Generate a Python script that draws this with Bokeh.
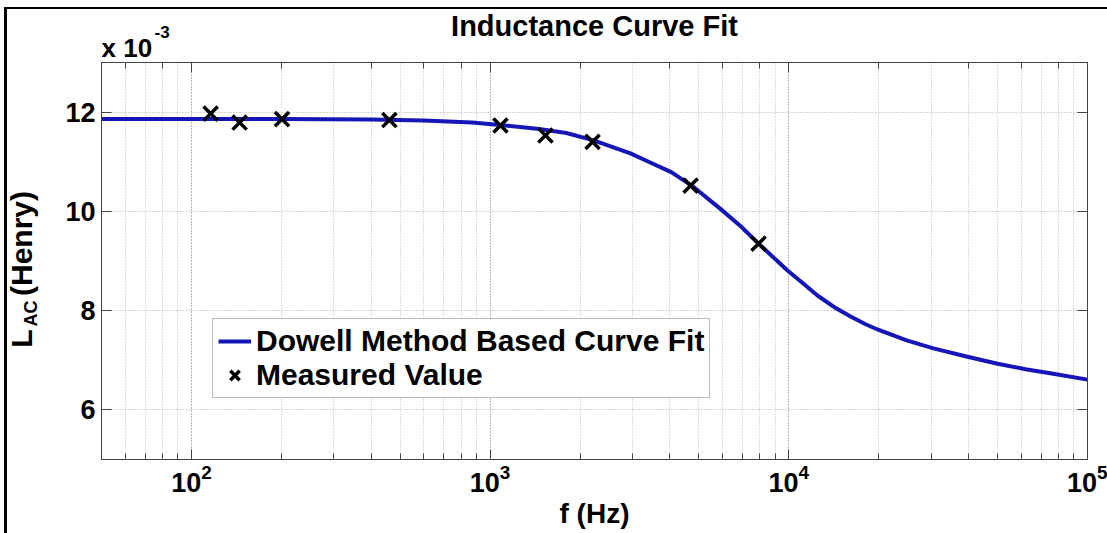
import math
from bokeh.plotting import figure
from bokeh.models import (Range1d, LogAxis, LinearAxis, Legend, LegendItem, Title,
                          FixedTicker, LogTicker, ColumnDataSource)
from bokeh.embed import file_html
from bokeh.resources import INLINE

# ---------------- data (L values in units of 10^-3 H) ----------------
fit_freq = [50, 100, 200, 400, 600, 870, 1080, 1460, 1800, 2220, 2950, 3450, 4040,
            4730, 5930, 6900, 7920, 9900, 11100, 12500, 14200, 16100, 18000, 20000,
            24800, 30500, 39000, 50000, 62000, 75000, 100000]
fit_L = [11.86, 11.86, 11.86, 11.85, 11.83, 11.79, 11.74, 11.66, 11.58, 11.43, 11.17,
         10.98, 10.79, 10.52, 10.04, 9.70, 9.35, 8.81, 8.56, 8.30, 8.07, 7.88, 7.73,
         7.61, 7.40, 7.24, 7.08, 6.93, 6.82, 6.74, 6.61]

meas_freq = [116, 145, 201, 460, 1083, 1532, 2203, 4690, 7918]
meas_L = [11.97, 11.79, 11.86, 11.84, 11.73, 11.53, 11.40, 10.52, 9.35]

y_ticks = [6, 8, 10, 12]

NBSP = "\u00a0"
title_text = "Inductance Curve Fit"
x_label = "f (Hz)"
y_label_main = "L" + NBSP * 4 + "(Henry)" + NBSP * 2   # trailing spaces shift it along the axis
y_label_sub = "AC" + NBSP * 21                         # subscript, shifted down along the axis
scale_base = "x 10"
scale_exp = "-3"
fit_name = "Dowell Method Based Curve Fit"
meas_name = "Measured Value"

FONT = "Liberation Sans"

# ---------------- layout geometry (page pixels) ----------------
X0, X1 = 50, 1e5
Y0, Y1 = 5, 13
FL, FR, FT, FB = 101, 1087, 62, 459
W, H = 1107, 533

p = figure(width=W, height=H, x_axis_type="log",
           x_range=Range1d(X0, X1), y_range=Range1d(Y0, Y1),
           output_backend="svg", toolbar_location=None,
           min_border_left=FL, min_border_right=W - FR,
           min_border_top=FT, min_border_bottom=H - FB)
p.title.text = ""
p.styles = {"box-shadow": "inset 4px 7px 0 0 #ffffff, inset 7px 9px 0 0 #000000"}
p.background_fill_color = "white"
p.border_fill_color = None
p.outline_line_color = "#444444"
p.outline_line_width = 1

# grids
p.xgrid.grid_line_color = "#a8a8a8"
p.xgrid.grid_line_dash = "1 2"
p.xgrid.minor_grid_line_color = "#b8b8b8"
p.xgrid.minor_grid_line_dash = "1 2"
p.ygrid.grid_line_color = "#a8a8a8"
p.ygrid.grid_line_dash = "1 2"
p.ygrid.ticker = FixedTicker(ticks=y_ticks, minor_ticks=[])


def style_axis(ax, show_labels=True):
    ax.axis_line_color = "#444444"
    ax.major_tick_line_color = "#444444"
    ax.minor_tick_line_color = "#444444"
    ax.major_tick_in = 10
    ax.major_tick_out = 0
    ax.minor_tick_in = 6
    ax.minor_tick_out = 0
    ax.major_label_text_font = FONT
    ax.major_label_text_font_style = "bold"
    ax.axis_label_text_font = FONT
    ax.axis_label_text_font_style = "bold"
    ax.axis_label_text_color = "black"
    if show_labels:
        ax.major_label_text_color = "black"
        ax.major_label_text_font_size = "27px"
    else:
        ax.major_label_text_font_size = "2px"
        ax.major_label_text_alpha = 0
        ax.major_label_standoff = 0


xa = p.xaxis[0]
style_axis(xa)
xa.major_label_standoff = 4
xa.axis_label = x_label
xa.axis_label_text_font_size = "28px"
xa.axis_label_standoff = 3

# primary y axis carries the subscript as its label
ya = p.yaxis[0]
style_axis(ya)
ya.ticker = FixedTicker(ticks=y_ticks, minor_ticks=[])
ya.major_label_standoff = 6
ya.axis_label = y_label_sub
ya.axis_label_text_font_size = "18px"
ya.axis_label_standoff = 21

# outer (tick-less) y axis carries "L (Henry)"
ya2 = LinearAxis(ticker=FixedTicker(ticks=[], minor_ticks=[]))
style_axis(ya2, False)
ya2.axis_line_color = None
ya2.axis_label = y_label_main
ya2.axis_label_text_font_size = "30px"
ya2.axis_label_standoff = -19
p.add_layout(ya2, "left")

top_ax = LogAxis(ticker=LogTicker())
style_axis(top_ax, False)
p.add_layout(top_ax, "above")
right_ax = LinearAxis(ticker=FixedTicker(ticks=y_ticks, minor_ticks=[]))
style_axis(right_ax, False)
p.add_layout(right_ax, "right")


def mk_title(text, size, align="left", offset=0, standoff=0):
    return Title(text=text, align=align, offset=offset, standoff=standoff,
                 text_font=FONT, text_font_style="bold", text_font_size=size,
                 text_color="black")


# above: scale factor, its exponent, then the main title
p.add_layout(mk_title(scale_base, "26px", "left", 0, -1), "above")
p.add_layout(mk_title(scale_exp, "17px", "left", 53, -12), "above")
p.add_layout(mk_title(title_text, "29px", "center", 0, -24), "above")

# data
fit_src = ColumnDataSource(dict(f=fit_freq, L=fit_L))
meas_src = ColumnDataSource(dict(f=meas_freq, L=meas_L))
line_r = p.line("f", "L", source=fit_src, line_color="#1515b8", line_width=4,
                line_join="round")
sc_r = p.scatter("f", "L", source=meas_src, marker="x", size=20,
                 line_color="black", line_width=3.5)

legend = Legend(items=[LegendItem(label=fit_name, renderers=[line_r]),
                       LegendItem(label=meas_name, renderers=[sc_r])],
                location=(212 - FL, FB - 398),
                label_text_font=FONT, label_text_font_style="bold",
                label_text_font_size="30px", label_text_color="black",
                glyph_width=33, glyph_height=34, label_height=34,
                label_standoff=5, padding=5, spacing=0, margin=0,
                border_line_color="#777777", border_line_width=1,
                background_fill_color="white", background_fill_alpha=1)
p.add_layout(legend, "center")

open("out.html", "w").write(file_html(p, INLINE))
